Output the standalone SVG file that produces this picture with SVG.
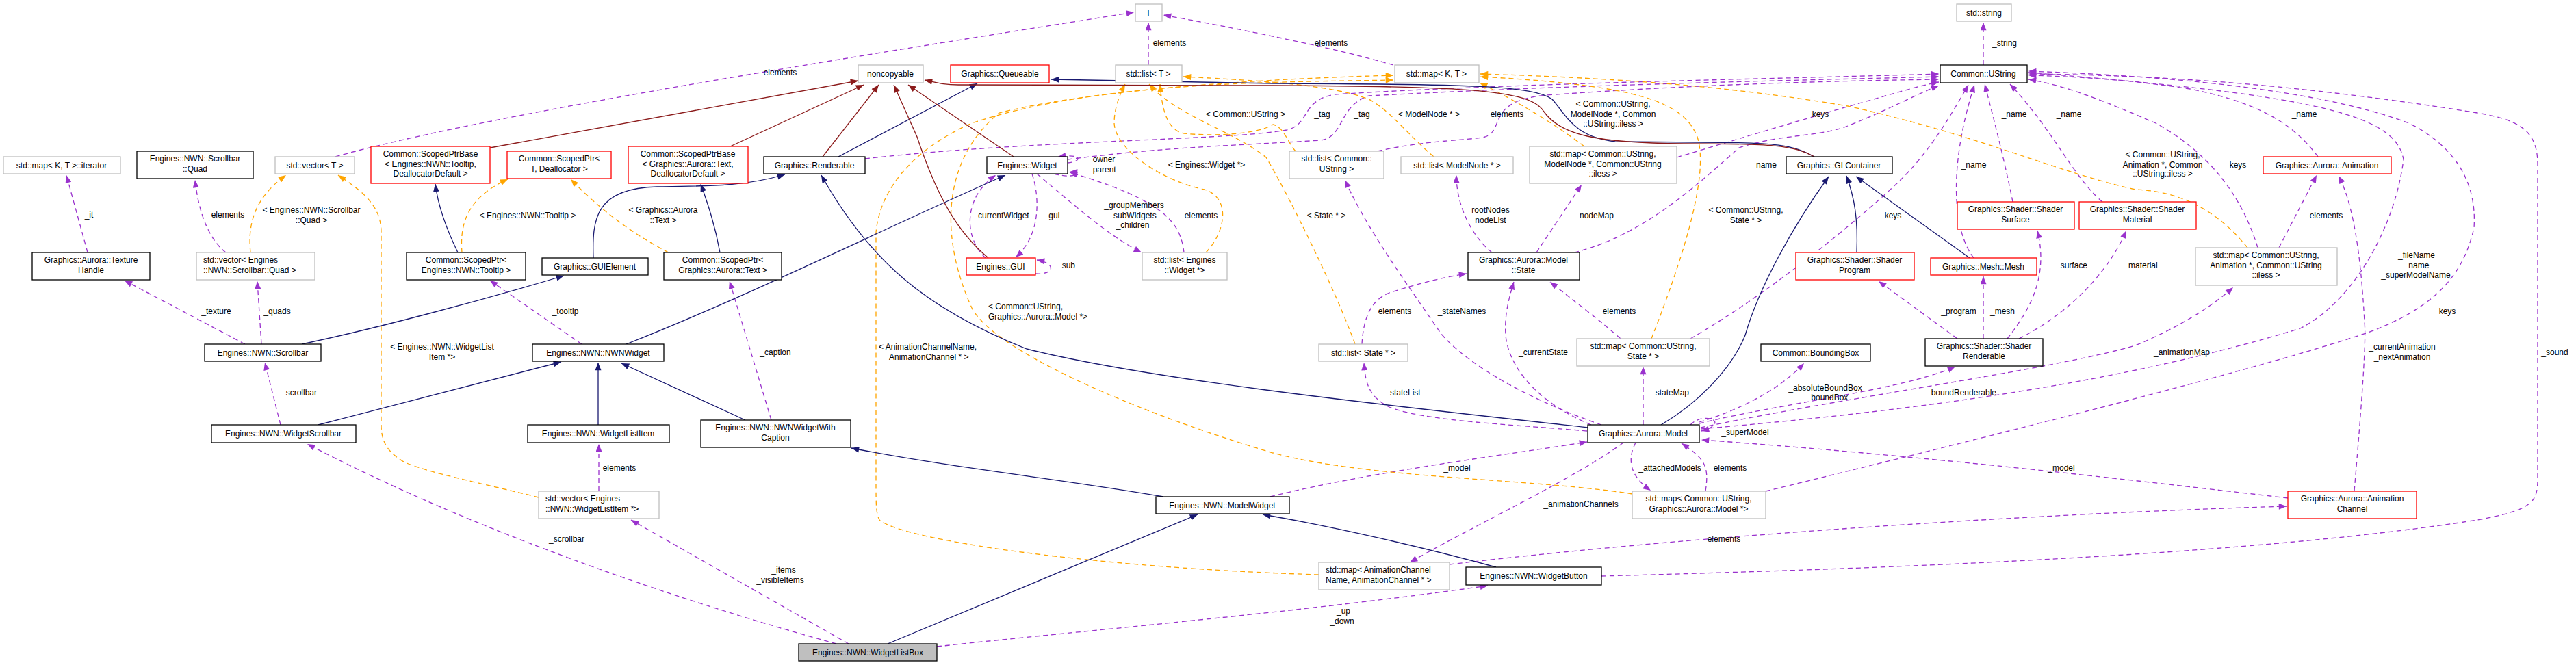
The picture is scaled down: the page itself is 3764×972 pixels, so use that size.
<svg xmlns="http://www.w3.org/2000/svg" width="3764" height="972" viewBox="0 0 3764 972">
<style>
text{font-family:"Liberation Sans",Arial,sans-serif;font-size:12px;fill:#000}
.c{text-anchor:middle}
.l{text-anchor:start}
rect{fill:#fff;stroke-width:1.3}
.k{stroke:#000}
.g{stroke:#bfbfbf}
.r{stroke:#ff0000}
.s{fill:#bfbfbf;stroke:#000}
path{fill:none;stroke-width:1.3}
.u{stroke:#9a32cd;stroke-dasharray:7,5;marker-end:url(#mu)}
.o{stroke:#ffa500;stroke-dasharray:7,5;marker-end:url(#mo)}
.n{stroke:#191970;marker-end:url(#mn)}
.p{stroke:#8b1a1a;marker-end:url(#mp)}
</style>
<defs>
<marker id="mu" viewBox="0 0 10 8" refX="10" refY="4" markerWidth="12" markerHeight="9" markerUnits="userSpaceOnUse" orient="auto"><path d="M0,0L10,4L0,8z" style="fill:#9a32cd;stroke:none"/></marker>
<marker id="mo" viewBox="0 0 10 8" refX="10" refY="4" markerWidth="12" markerHeight="9" markerUnits="userSpaceOnUse" orient="auto"><path d="M0,0L10,4L0,8z" style="fill:#ffa500;stroke:none"/></marker>
<marker id="mn" viewBox="0 0 10 8" refX="10" refY="4" markerWidth="12" markerHeight="9" markerUnits="userSpaceOnUse" orient="auto"><path d="M0,0L10,4L0,8z" style="fill:#191970;stroke:none"/></marker>
<marker id="mp" viewBox="0 0 10 8" refX="10" refY="4" markerWidth="12" markerHeight="9" markerUnits="userSpaceOnUse" orient="auto"><path d="M0,0L10,4L0,8z" style="fill:#8b1a1a;stroke:none"/></marker>
</defs>
<rect x="0" y="0" width="3764" height="972" style="fill:#fff;stroke:none"/>
<g id="edges">
<path class="u" d="M490,229 C700,170 1200,90 1657,18"/>
<path class="u" d="M128,369 L97,256"/>
<path class="u" d="M330,369 C305,350 290,310 285,263"/>
<path class="u" d="M358,503 L182,410"/>
<path class="u" d="M382,503 L376,411"/>
<path class="u" d="M410,621 L387,530"/>
<path class="u" d="M1222,941 C1000,880 700,780 449,649"/>
<path class="u" d="M1240,941 L922,760"/>
<path class="u" d="M875,718 L875,649"/>
<path class="u" d="M850,503 L716,410"/>
<path class="u" d="M1127,614 L1066,411"/>
<path class="u" d="M1264,232 C1500,205 1800,205 1880,190 C1915,182 1900,147 1950,138 C2200,122 2600,115 2833,108"/>
<path class="u" d="M1560,233 C1700,215 1800,213 1930,205 C1965,200 1955,155 2000,140 C2300,124 2600,118 2833,112"/>
<path class="u" d="M1560,238 C1582,236 1582,224 1546,229"/>
<path class="u" d="M1540,254 C1570,262 1585,252 1563,251"/>
<path class="u" d="M1440,377 C1410,350 1405,290 1455,256"/>
<path class="u" d="M1508,254 C1520,290 1520,345 1484,376"/>
<path class="u" d="M1513,400 C1540,402 1545,385 1515,380"/>
<path class="u" d="M1515,254 C1570,300 1620,345 1668,369"/>
<path class="u" d="M1730,369 C1725,330 1710,295 1563,252"/>
<path class="u" d="M1678,95 L1678,33"/>
<path class="u" d="M2036,95 C1950,70 1800,40 1700,22"/>
<path class="u" d="M2898,95 L2898,33"/>
<path class="u" d="M2013,221 C2080,205 2150,205 2170,200 C2200,190 2170,147 2260,139 C2500,122 2700,118 2833,116"/>
<path class="u" d="M2180,369 C2150,345 2128,300 2128,256"/>
<path class="u" d="M2245,369 L2311,270"/>
<path class="u" d="M2300,369 C2400,345 2480,270 2541,216 C2600,196 2660,200 2700,184 C2760,160 2800,138 2833,125"/>
<path class="u" d="M2450,230 C2550,200 2650,170 2720,150 C2780,133 2810,124 2833,120"/>
<path class="u" d="M2470,495 C2600,420 2740,300 2780,260 C2820,220 2850,170 2876,124"/>
<path class="u" d="M2368,495 C2340,470 2300,440 2265,412"/>
<path class="u" d="M1990,503 C1992,470 2000,440 2030,428 C2070,415 2110,405 2143,400"/>
<path class="u" d="M2340,621 C2250,590 2150,540 2105,487 C2060,420 2000,340 1965,263"/>
<path class="u" d="M2325,621 C2250,590 2205,540 2200,490 C2198,460 2205,435 2212,412"/>
<path class="u" d="M2319,630 C2200,620 2080,615 2030,595 C2000,580 1995,560 1993,530"/>
<path class="u" d="M2401,621 L2401,536"/>
<path class="u" d="M2483,617 C2540,600 2600,570 2636,531"/>
<path class="u" d="M2483,619 C2600,590 2780,570 2857,536"/>
<path class="u" d="M2470,621 C2490,600 2530,618 2486,630"/>
<path class="u" d="M3343,728 C3100,700 2800,665 2486,643"/>
<path class="u" d="M2372,647 C2300,700 2150,770 2060,822"/>
<path class="u" d="M2390,647 C2378,670 2380,695 2412,717"/>
<path class="u" d="M2492,718 C2498,680 2490,670 2457,648"/>
<path class="u" d="M1856,726 C2000,690 2200,665 2319,646"/>
<path class="u" d="M1369,945 C1600,920 1900,895 2174,856"/>
<path class="u" d="M2118,825 C2500,780 3000,750 3341,740"/>
<path class="u" d="M2340,842 C2800,830 3300,810 3620,760 C3700,745 3708,735 3708,700 L3708,240 C3708,190 3680,175 3620,165 C3400,130 3200,110 2964,108"/>
<path class="u" d="M2485,627 C2800,600 3100,560 3361,480 C3440,440 3500,330 3512,233 C3500,170 3400,140 2964,106"/>
<path class="u" d="M2580,718 C2900,640 3300,540 3457,487 C3560,450 3600,400 3615,333 C3620,260 3580,210 3520,180 C3400,135 3200,112 2964,104"/>
<path class="u" d="M2485,625 C2700,580 3000,540 3120,505 C3180,480 3230,450 3263,420"/>
<path class="u" d="M3330,362 L3385,256"/>
<path class="u" d="M3440,718 C3450,600 3458,500 3455,470 C3450,380 3440,300 3417,257"/>
<path class="u" d="M3299,362 C3280,300 3240,230 3150,180 C3080,150 3020,125 2964,116"/>
<path class="u" d="M3387,229 C3350,180 3300,150 3200,130 C3100,115 3030,112 2964,110"/>
<path class="u" d="M2941,295 C2930,240 2915,180 2900,123"/>
<path class="u" d="M3072,295 C3030,260 3000,190 2937,123"/>
<path class="u" d="M2884,377 C2855,340 2845,250 2885,124"/>
<path class="u" d="M2860,495 L2745,411"/>
<path class="u" d="M2898,495 L2898,404"/>
<path class="u" d="M2933,495 C2960,460 2995,410 2977,337"/>
<path class="u" d="M2950,495 C3020,460 3080,400 3107,337"/>
<path class="o" d="M366,369 C362,330 370,290 418,256"/>
<path class="o" d="M787,727 C720,710 620,690 590,675 C565,660 557,645 557,620 L557,340 C557,300 530,280 494,256"/>
<path class="o" d="M675,369 C672,330 680,290 742,262"/>
<path class="o" d="M977,369 C930,345 880,310 834,262"/>
<path class="o" d="M1762,369 C1790,340 1800,290 1760,277 C1700,265 1630,220 1628,180 C1628,160 1635,140 1644,123"/>
<path class="o" d="M1980,503 C1950,420 1880,280 1850,230 C1800,190 1720,170 1679,123"/>
<path class="o" d="M1893,221 C1880,205 1875,185 1860,182 C1840,195 1780,200 1730,195 C1705,190 1698,160 1695,123"/>
<path class="o" d="M2095,229 C2060,200 2030,160 2000,145 C1950,125 1850,118 1729,112"/>
<path class="o" d="M2315,214 C2270,180 2220,150 2162,121"/>
<path class="o" d="M2413,495 C2450,400 2500,260 2480,200 C2460,150 2400,125 2163,112"/>
<path class="o" d="M2385,722 C2250,700 2000,700 1860,662 C1650,600 1450,510 1420,450 C1370,340 1380,230 1460,165 C1600,130 1850,115 2036,110"/>
<path class="o" d="M1927,840 C1600,830 1320,790 1285,760 C1280,750 1280,740 1280,700 L1280,340 C1285,280 1330,220 1420,180 C1600,120 1850,120 2036,117"/>
<path class="o" d="M3284,362 C3250,320 3200,280 3120,277 C3000,250 2900,200 2700,155 C2550,130 2400,115 2163,108"/>
<path class="n" d="M669,369 C650,330 640,300 636,269"/>
<path class="n" d="M1052,369 C1045,330 1035,300 1024,269"/>
<path class="n" d="M867,377 C865,320 870,275 960,273 C1040,272 1090,272 1147,255"/>
<path class="n" d="M1225,229 L1428,122"/>
<path class="n" d="M915,503 C1100,430 1300,330 1469,256"/>
<path class="n" d="M2320,625 C2100,600 1700,560 1500,510 C1350,450 1270,380 1200,256"/>
<path class="n" d="M441,503 C550,480 700,440 824,403"/>
<path class="n" d="M465,621 L820,529"/>
<path class="n" d="M874,621 L874,530"/>
<path class="n" d="M1089,614 L908,531"/>
<path class="n" d="M1700,726 C1550,700 1400,685 1244,655"/>
<path class="n" d="M2186,829 C2080,800 1950,770 1845,752"/>
<path class="n" d="M1297,941 L1750,752"/>
<path class="n" d="M2427,621 C2480,590 2530,540 2550,490 C2570,420 2620,330 2672,258"/>
<path class="n" d="M2713,369 C2715,320 2710,290 2698,257"/>
<path class="n" d="M2878,377 L2712,258"/>
<path class="n" d="M2651,229 C2620,212 2600,208 2480,208 L2360,207 C2300,200 2290,170 2268,145 C2240,125 2150,123 1860,122 L1536,116"/>
<path class="p" d="M2651,229 C2620,212 2590,210 2460,210 C2330,209 2280,197 2255,162 C2235,132 2150,126 1860,125 L1400,124 C1380,124 1370,121 1351,117"/>
<path class="p" d="M716,216 L1254,118"/>
<path class="p" d="M1067,214 L1262,124"/>
<path class="p" d="M1202,229 L1284,124"/>
<path class="p" d="M1444,377 C1400,340 1370,290 1340,200 L1306,124"/>
<path class="p" d="M1481,229 L1327,124"/>
<text class="c" x="1140" y="110">elements</text>
<text class="c" x="130" y="318">_it</text>
<text class="c" x="333" y="318">elements</text>
<text class="c" x="455" y="311">&lt; Engines::NWN::Scrollbar</text>
<text class="c" x="455" y="326">::Quad &gt;</text>
<text class="c" x="316" y="459">_texture</text>
<text class="c" x="405" y="459">_quads</text>
<text class="c" x="437" y="578">_scrollbar</text>
<text class="c" x="828" y="792">_scrollbar</text>
<text class="c" x="1145" y="837">_items</text>
<text class="c" x="1140" y="852">_visibleItems</text>
<text class="c" x="905" y="688">elements</text>
<text class="c" x="826" y="459">_tooltip</text>
<text class="c" x="1133" y="519">_caption</text>
<text class="c" x="646" y="511">&lt; Engines::NWN::WidgetList</text>
<text class="c" x="646" y="526">Item *&gt;</text>
<text class="c" x="771" y="319">&lt; Engines::NWN::Tooltip &gt;</text>
<text class="c" x="969" y="311">&lt; Graphics::Aurora</text>
<text class="c" x="969" y="326">::Text &gt;</text>
<text class="c" x="1709" y="67">elements</text>
<text class="l" x="1590" y="237">_owner</text>
<text class="l" x="1590" y="252">_parent</text>
<text class="c" x="1463" y="319">_currentWidget</text>
<text class="c" x="1537" y="319">_gui</text>
<text class="c" x="1558" y="392">_sub</text>
<text class="c" x="1657" y="304">_groupMembers</text>
<text class="c" x="1655" y="319">_subWidgets</text>
<text class="c" x="1655" y="333">_children</text>
<text class="c" x="1755" y="319">elements</text>
<text class="c" x="1763" y="245">&lt; Engines::Widget *&gt;</text>
<text class="c" x="1820" y="171">&lt; Common::UString &gt;</text>
<text class="l" x="1444" y="452">&lt; Common::UString,</text>
<text class="l" x="1444" y="467">Graphics::Aurora::Model *&gt;</text>
<text class="l" x="1284" y="511">&lt; AnimationChannelName,</text>
<text class="l" x="1299" y="526">AnimationChannel * &gt;</text>
<text class="c" x="1945" y="67">elements</text>
<text class="c" x="1932" y="171">_tag</text>
<text class="c" x="1990" y="171">_tag</text>
<text class="c" x="2088" y="171">&lt; ModelNode * &gt;</text>
<text class="c" x="2202" y="171">elements</text>
<text class="c" x="2357" y="156">&lt; Common::UString,</text>
<text class="c" x="2357" y="171">ModelNode *, Common</text>
<text class="c" x="2357" y="185">::UString::iless &gt;</text>
<text class="c" x="1938" y="319">&lt; State * &gt;</text>
<text class="c" x="2178" y="311">rootNodes</text>
<text class="c" x="2178" y="326">nodeList</text>
<text class="c" x="2333" y="319">nodeMap</text>
<text class="c" x="2038" y="459">elements</text>
<text class="c" x="2136" y="459">_stateNames</text>
<text class="c" x="2366" y="459">elements</text>
<text class="c" x="2255" y="519">_currentState</text>
<text class="c" x="2050" y="578">_stateList</text>
<text class="c" x="2440" y="578">_stateMap</text>
<text class="c" x="2129" y="688">_model</text>
<text class="c" x="2440" y="688">_attachedModels</text>
<text class="c" x="2310" y="741">_animationChannels</text>
<text class="c" x="1963" y="897">_up</text>
<text class="c" x="1961" y="912">_down</text>
<text class="c" x="2519" y="792">elements</text>
<text class="c" x="2929" y="67">_string</text>
<text class="c" x="2660" y="171">keys</text>
<text class="c" x="2943" y="171">_name</text>
<text class="c" x="3023" y="171">_name</text>
<text class="c" x="2581" y="245">name</text>
<text class="c" x="2884" y="245">_name</text>
<text class="c" x="2551" y="311">&lt; Common::UString,</text>
<text class="c" x="2551" y="326">State * &gt;</text>
<text class="c" x="2766" y="319">keys</text>
<text class="c" x="3160" y="230">&lt; Common::UString,</text>
<text class="c" x="3160" y="245">Animation *, Common</text>
<text class="c" x="3160" y="258">::UString::iless &gt;</text>
<text class="c" x="3027" y="392">_surface</text>
<text class="c" x="3128" y="392">_material</text>
<text class="c" x="2862" y="459">_program</text>
<text class="c" x="2926" y="459">_mesh</text>
<text class="c" x="2667" y="571">_absoluteBoundBox</text>
<text class="c" x="2670" y="585">_boundBox</text>
<text class="c" x="2866" y="578">_boundRenderable</text>
<text class="c" x="2550" y="636">_superModel</text>
<text class="c" x="2528" y="688">elements</text>
<text class="c" x="3012" y="688">_model</text>
<text class="c" x="3367" y="171">_name</text>
<text class="c" x="3270" y="245">keys</text>
<text class="c" x="3399" y="319">elements</text>
<text class="c" x="3531" y="377">_fileName</text>
<text class="c" x="3531" y="392">_name</text>
<text class="c" x="3530" y="406">_superModelName</text>
<text class="c" x="3576" y="459">keys</text>
<text class="c" x="3188" y="519">_animationMap</text>
<text class="c" x="3510" y="511">_currentAnimation</text>
<text class="c" x="3510" y="526">_nextAnimation</text>
<text class="c" x="3733" y="519">_sound</text>
</g>
<g id="n-iter"><rect class="g" x="5" y="229" width="171" height="25"/><text class="c" x="90" y="246">std::map&lt; K, T &gt;::iterator</text></g>
<g id="n-quad"><rect class="k" x="200" y="221" width="170" height="40"/><text class="c" x="285" y="236">Engines::NWN::Scrollbar</text><text class="c" x="285" y="251">::Quad</text></g>
<g id="n-vecT"><rect class="g" x="402" y="229" width="116" height="25"/><text class="c" x="460" y="246">std::vector&lt; T &gt;</text></g>
<g id="n-spbTooltip"><rect class="r" x="542" y="214" width="174" height="54"/><text class="c" x="629" y="229">Common::ScopedPtrBase</text><text class="c" x="629" y="244">&lt; Engines::NWN::Tooltip,</text><text class="c" x="629" y="258">DeallocatorDefault &gt;</text></g>
<g id="n-texH"><rect class="k" x="47" y="369" width="172" height="40"/><text class="c" x="133" y="384">Graphics::Aurora::Texture</text><text class="c" x="133" y="399">Handle</text></g>
<g id="n-vecQuad"><rect class="g" x="287" y="369" width="173" height="40"/><text class="l" x="297" y="384">std::vector&lt; Engines</text><text class="l" x="297" y="399">::NWN::Scrollbar::Quad &gt;</text></g>
<g id="n-spTooltip"><rect class="k" x="594" y="369" width="174" height="40"/><text class="c" x="681" y="384">Common::ScopedPtr&lt;</text><text class="c" x="681" y="399">Engines::NWN::Tooltip &gt;</text></g>
<g id="n-scrollbar"><rect class="k" x="299" y="503" width="170" height="25"/><text class="c" x="384" y="520">Engines::NWN::Scrollbar</text></g>
<g id="n-widgetScrollbar"><rect class="k" x="309" y="621" width="211" height="26"/><text class="c" x="414" y="638">Engines::NWN::WidgetScrollbar</text></g>
<g id="n-spTD"><rect class="r" x="741" y="221" width="152" height="40"/><text class="c" x="817" y="236">Common::ScopedPtr&lt;</text><text class="c" x="817" y="251">T, Deallocator &gt;</text></g>
<g id="n-spbText"><rect class="r" x="918" y="214" width="175" height="54"/><text class="c" x="1005" y="229">Common::ScopedPtrBase</text><text class="c" x="1005" y="244">&lt; Graphics::Aurora::Text,</text><text class="c" x="1005" y="258">DeallocatorDefault &gt;</text></g>
<g id="n-renderable"><rect class="k" x="1116" y="229" width="148" height="25"/><text class="c" x="1190" y="246">Graphics::Renderable</text></g>
<g id="n-guiElement"><rect class="k" x="792" y="377" width="155" height="25"/><text class="c" x="869" y="394">Graphics::GUIElement</text></g>
<g id="n-spText"><rect class="k" x="970" y="369" width="172" height="40"/><text class="c" x="1056" y="384">Common::ScopedPtr&lt;</text><text class="c" x="1056" y="399">Graphics::Aurora::Text &gt;</text></g>
<g id="n-nwnWidget"><rect class="k" x="778" y="503" width="192" height="25"/><text class="c" x="874" y="520">Engines::NWN::NWNWidget</text></g>
<g id="n-widgetListItem"><rect class="k" x="771" y="621" width="207" height="26"/><text class="c" x="874" y="638">Engines::NWN::WidgetListItem</text></g>
<g id="n-nwnWidgetWithCaption"><rect class="k" x="1024" y="614" width="219" height="40"/><text class="c" x="1133" y="629">Engines::NWN::NWNWidgetWith</text><text class="c" x="1133" y="644">Caption</text></g>
<g id="n-vecWLI"><rect class="g" x="787" y="718" width="176" height="40"/><text class="l" x="797" y="733">std::vector&lt; Engines</text><text class="l" x="797" y="748">::NWN::WidgetListItem *&gt;</text></g>
<g id="n-listBox"><rect class="s" x="1167" y="941" width="202" height="25"/><text class="c" x="1268" y="958">Engines::NWN::WidgetListBox</text></g>
<g id="n-T"><rect class="g" x="1659" y="6" width="39" height="25"/><text class="c" x="1678" y="23">T</text></g>
<g id="n-noncopyable"><rect class="g" x="1254" y="95" width="95" height="26"/><text class="c" x="1301" y="112">noncopyable</text></g>
<g id="n-queueable"><rect class="r" x="1389" y="95" width="144" height="26"/><text class="c" x="1461" y="112">Graphics::Queueable</text></g>
<g id="n-listT"><rect class="g" x="1630" y="95" width="97" height="26"/><text class="c" x="1678" y="112">std::list&lt; T &gt;</text></g>
<g id="n-widget"><rect class="k" x="1442" y="229" width="118" height="25"/><text class="c" x="1501" y="246">Engines::Widget</text></g>
<g id="n-gui"><rect class="r" x="1412" y="377" width="101" height="25"/><text class="c" x="1462" y="394">Engines::GUI</text></g>
<g id="n-listWidget"><rect class="g" x="1669" y="369" width="124" height="40"/><text class="c" x="1731" y="384">std::list&lt; Engines</text><text class="c" x="1731" y="399">::Widget *&gt;</text></g>
<g id="n-modelWidget"><rect class="k" x="1689" y="726" width="195" height="25"/><text class="c" x="1786" y="743">Engines::NWN::ModelWidget</text></g>
<g id="n-mapKT"><rect class="g" x="2038" y="95" width="123" height="26"/><text class="c" x="2099" y="112">std::map&lt; K, T &gt;</text></g>
<g id="n-listUString"><rect class="g" x="1884" y="221" width="138" height="40"/><text class="c" x="1953" y="236">std::list&lt; Common::</text><text class="c" x="1953" y="251">UString &gt;</text></g>
<g id="n-listModelNode"><rect class="g" x="2047" y="229" width="164" height="25"/><text class="c" x="2129" y="246">std::list&lt; ModelNode * &gt;</text></g>
<g id="n-mapModelNode"><rect class="g" x="2235" y="214" width="215" height="54"/><text class="c" x="2342" y="229">std::map&lt; Common::UString,</text><text class="c" x="2342" y="244">ModelNode *, Common::UString</text><text class="c" x="2342" y="258">::iless &gt;</text></g>
<g id="n-state"><rect class="k" x="2145" y="369" width="163" height="40"/><text class="c" x="2226" y="384">Graphics::Aurora::Model</text><text class="c" x="2226" y="399">::State</text></g>
<g id="n-listState"><rect class="g" x="1927" y="503" width="130" height="25"/><text class="c" x="1992" y="520">std::list&lt; State * &gt;</text></g>
<g id="n-mapState"><rect class="g" x="2304" y="495" width="194" height="40"/><text class="c" x="2401" y="510">std::map&lt; Common::UString,</text><text class="c" x="2401" y="525">State * &gt;</text></g>
<g id="n-model"><rect class="k" x="2320" y="621" width="163" height="26"/><text class="c" x="2401" y="638">Graphics::Aurora::Model</text></g>
<g id="n-mapModel"><rect class="g" x="2385" y="718" width="195" height="40"/><text class="c" x="2482" y="733">std::map&lt; Common::UString,</text><text class="c" x="2482" y="748">Graphics::Aurora::Model *&gt;</text></g>
<g id="n-mapAnimCh"><rect class="g" x="1927" y="822" width="191" height="40"/><text class="l" x="1937" y="837">std::map&lt; AnimationChannel</text><text class="l" x="1937" y="852">Name, AnimationChannel * &gt;</text></g>
<g id="n-widgetButton"><rect class="k" x="2142" y="829" width="198" height="26"/><text class="c" x="2241" y="846">Engines::NWN::WidgetButton</text></g>
<g id="n-string"><rect class="g" x="2859" y="6" width="80" height="25"/><text class="c" x="2899" y="23">std::string</text></g>
<g id="n-ustring"><rect class="k" x="2835" y="95" width="127" height="26"/><text class="c" x="2898" y="112">Common::UString</text></g>
<g id="n-glContainer"><rect class="k" x="2610" y="229" width="155" height="25"/><text class="c" x="2687" y="246">Graphics::GLContainer</text></g>
<g id="n-surface"><rect class="r" x="2860" y="295" width="171" height="40"/><text class="c" x="2945" y="310">Graphics::Shader::Shader</text><text class="c" x="2945" y="325">Surface</text></g>
<g id="n-material"><rect class="r" x="3038" y="295" width="171" height="40"/><text class="c" x="3123" y="310">Graphics::Shader::Shader</text><text class="c" x="3123" y="325">Material</text></g>
<g id="n-program"><rect class="r" x="2624" y="369" width="173" height="40"/><text class="c" x="2710" y="384">Graphics::Shader::Shader</text><text class="c" x="2710" y="399">Program</text></g>
<g id="n-mesh"><rect class="r" x="2821" y="377" width="155" height="25"/><text class="c" x="2898" y="394">Graphics::Mesh::Mesh</text></g>
<g id="n-bbox"><rect class="k" x="2573" y="503" width="160" height="25"/><text class="c" x="2653" y="520">Common::BoundingBox</text></g>
<g id="n-shRenderable"><rect class="k" x="2813" y="495" width="172" height="40"/><text class="c" x="2899" y="510">Graphics::Shader::Shader</text><text class="c" x="2899" y="525">Renderable</text></g>
<g id="n-animation"><rect class="r" x="3307" y="229" width="187" height="25"/><text class="c" x="3400" y="246">Graphics::Aurora::Animation</text></g>
<g id="n-mapAnim"><rect class="g" x="3208" y="362" width="207" height="55"/><text class="c" x="3311" y="377">std::map&lt; Common::UString,</text><text class="c" x="3311" y="392">Animation *, Common::UString</text><text class="c" x="3311" y="406">::iless &gt;</text></g>
<g id="n-animChannel"><rect class="r" x="3343" y="718" width="188" height="40"/><text class="c" x="3437" y="733">Graphics::Aurora::Animation</text><text class="c" x="3437" y="748">Channel</text></g>
</svg>
